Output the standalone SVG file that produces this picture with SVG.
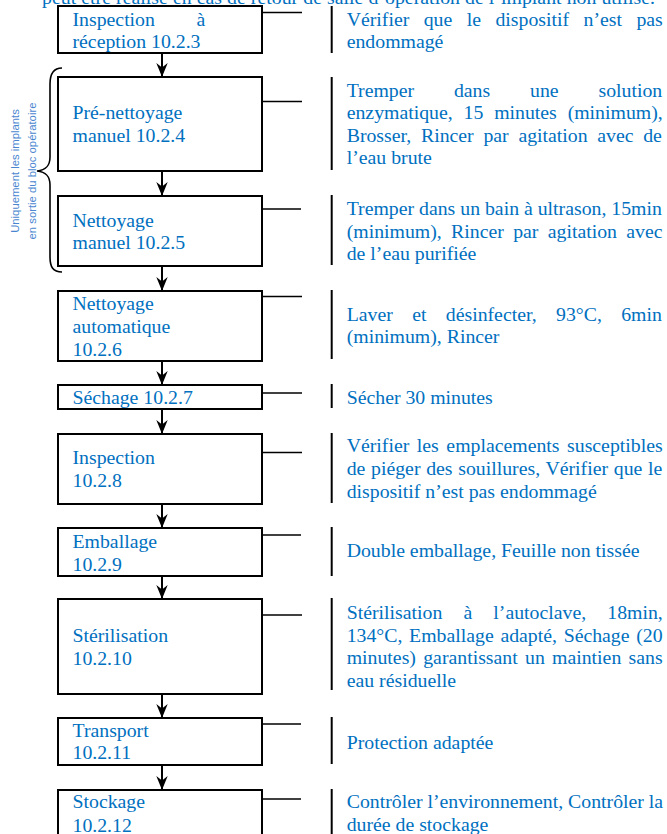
<svg xmlns="http://www.w3.org/2000/svg" width="667" height="834" viewBox="0 0 667 834">
<defs>
<style>
.t{font-family:"Liberation Serif","Times New Roman",serif;font-size:19.8px;fill:#0070C0}
.s{font-family:"Liberation Sans",Arial,sans-serif;font-size:11.3px;fill:#4a86d0}
.box{fill:#fff;stroke:#000;stroke-width:2}
.bar{stroke:#000;stroke-width:2}
.conn{stroke:#000;stroke-width:1.6}
.arr{stroke:#000;stroke-width:2;fill:none}
</style>
<marker id="ah" viewBox="0 0 14 12" refX="13" refY="6" markerWidth="14" markerHeight="12" markerUnits="userSpaceOnUse" orient="auto">
<path d="M0,0.3 L14,6 L0,11.7 L4.5,6 z" fill="#000"/>
</marker>
</defs>
<rect width="667" height="834" fill="#fff"/>
<text class="t" x="42" y="4" textLength="613" lengthAdjust="spacing">peut être réalisé en cas de retour de salle d’opération de l’implant non utilisé.</text>

<g id="brace">
<path d="M62,68 C53,68 50,74 50,84 L50,157 C50,166 46,170 37,171 C46,172 50,176 50,185 L50,257 C50,267 53,272 62,272" fill="none" stroke="#000" stroke-width="1.6"/>
<text class="s" transform="translate(19,171) rotate(-90)" text-anchor="middle"><tspan x="0" y="0">Uniquement les implants</tspan><tspan x="0" y="17">en sortie du bloc opératoire</tspan></text>
</g>

<g id="connectors">
<line class="arr" x1="162" y1="53" x2="162" y2="76" marker-end="url(#ah)"/>
<line class="arr" x1="162" y1="171" x2="162" y2="195" marker-end="url(#ah)"/>
<line class="arr" x1="162" y1="266" x2="162" y2="290" marker-end="url(#ah)"/>
<line class="arr" x1="162" y1="361" x2="162" y2="384" marker-end="url(#ah)"/>
<line class="arr" x1="162" y1="409" x2="162" y2="433" marker-end="url(#ah)"/>
<line class="arr" x1="162" y1="504" x2="162" y2="527" marker-end="url(#ah)"/>
<line class="arr" x1="162" y1="576" x2="162" y2="598" marker-end="url(#ah)"/>
<line class="arr" x1="162" y1="694" x2="162" y2="717" marker-end="url(#ah)"/>
<line class="arr" x1="162" y1="765" x2="162" y2="789" marker-end="url(#ah)"/>
<line class="conn" x1="262" y1="12.5" x2="302" y2="12.5"/>
<line class="conn" x1="262" y1="101.5" x2="302" y2="101.5"/>
<line class="conn" x1="260" y1="209" x2="301" y2="209"/>
<line class="conn" x1="262" y1="296.5" x2="302" y2="296.5"/>
<line class="conn" x1="262" y1="393" x2="302" y2="393"/>
<line class="conn" x1="262" y1="452.5" x2="302" y2="452.5"/>
<line class="conn" x1="262" y1="535" x2="301" y2="535"/>
<line class="conn" x1="262" y1="615" x2="302" y2="615"/>
<line class="conn" x1="260" y1="724" x2="301" y2="724"/>
<line class="conn" x1="260" y1="799" x2="301" y2="799"/>
</g>

<g id="n1"><rect class="box" x="58" y="6" width="204" height="47"/>
<text class="t" x="72.5" y="26">Inspection</text><text class="t" x="196.5" y="26">à</text>
<text class="t" x="72.5" y="48.3">réception 10.2.3</text></g>
<g id="d1"><line class="bar" x1="331.7" y1="6" x2="331.7" y2="53"/>
<text class="t" x="346.7" y="26" word-spacing="9.5">Vérifier que le dispositif n’est pas</text>
<text class="t" x="346.7" y="47.7">endommagé</text></g>

<g id="n2"><rect class="box" x="58" y="77" width="204" height="94"/>
<text class="t" x="72.5" y="119.3">Pré-nettoyage</text>
<text class="t" x="72.5" y="142">manuel 10.2.4</text></g>
<g id="d2"><line class="bar" x1="331.7" y1="77" x2="331.7" y2="170"/>
<text class="t" x="346.7" y="96.7" word-spacing="34.9">Tremper dans une solution</text>
<text class="t" x="346.7" y="119.3" word-spacing="5.9">enzymatique, 15 minutes (minimum),</text>
<text class="t" x="346.7" y="141.7" word-spacing="4.76">Brosser, Rincer par agitation avec de</text>
<text class="t" x="346.7" y="164">l’eau brute</text></g>

<g id="n3"><rect class="box" x="58" y="196" width="204" height="70"/>
<text class="t" x="72.5" y="226.7">Nettoyage</text>
<text class="t" x="72.5" y="249">manuel 10.2.5</text></g>
<g id="d3"><line class="bar" x1="331.7" y1="195" x2="331.7" y2="265"/>
<text class="t" x="346.7" y="215">Tremper dans un bain à ultrason, 15min</text>
<text class="t" x="346.7" y="237.5" word-spacing="4.4">(minimum), Rincer par agitation avec</text>
<text class="t" x="346.7" y="260">de l’eau purifiée</text></g>

<g id="n4"><rect class="box" x="58" y="291" width="204" height="70"/>
<text class="t" x="72.5" y="309.5">Nettoyage</text>
<text class="t" x="72.5" y="333">automatique</text>
<text class="t" x="72.5" y="356.3">10.2.6</text></g>
<g id="d4"><line class="bar" x1="331.7" y1="290" x2="331.7" y2="359"/>
<text class="t" x="346.7" y="320.7" word-spacing="14.4">Laver et désinfecter, 93°C, 6min</text>
<text class="t" x="346.7" y="343.3">(minimum), Rincer</text></g>

<g id="n5"><rect class="box" x="58" y="385" width="204" height="24"/>
<text class="t" x="72.5" y="404">Séchage 10.2.7</text></g>
<g id="d5"><line class="bar" x1="331.7" y1="384" x2="331.7" y2="408"/>
<text class="t" x="346.7" y="404">Sécher 30 minutes</text></g>

<g id="n6"><rect class="box" x="58" y="434" width="204" height="70"/>
<text class="t" x="72.5" y="464.3">Inspection</text>
<text class="t" x="72.5" y="487">10.2.8</text></g>
<g id="d6"><line class="bar" x1="331.7" y1="433" x2="331.7" y2="503"/>
<text class="t" x="346.7" y="452.3" word-spacing="2.6">Vérifier les emplacements susceptibles</text>
<text class="t" x="346.7" y="475" word-spacing="0.75">de piéger des souillures, Vérifier que le</text>
<text class="t" x="346.7" y="497.7">dispositif n’est pas endommagé</text></g>

<g id="n7"><rect class="box" x="58" y="528" width="204" height="48"/>
<text class="t" x="72.5" y="548.3">Emballage</text>
<text class="t" x="72.5" y="570.7">10.2.9</text></g>
<g id="d7"><line class="bar" x1="331.7" y1="527" x2="331.7" y2="576"/>
<text class="t" x="346.7" y="557.3">Double emballage, Feuille non tissée</text></g>

<g id="n8"><rect class="box" x="58" y="599" width="204" height="95"/>
<text class="t" x="72.5" y="641.7">Stérilisation</text>
<text class="t" x="72.5" y="665">10.2.10</text></g>
<g id="d8"><line class="bar" x1="331.7" y1="598" x2="331.7" y2="690"/>
<text class="t" x="346.7" y="619" word-spacing="16.2">Stérilisation à l’autoclave, 18min,</text>
<text class="t" x="346.7" y="641.7" word-spacing="1.75">134°C, Emballage adapté, Séchage (20</text>
<text class="t" x="346.7" y="664.3" word-spacing="2.35">minutes) garantissant un maintien sans</text>
<text class="t" x="346.7" y="686.7">eau résiduelle</text></g>

<g id="n9"><rect class="box" x="58" y="718" width="204" height="47"/>
<text class="t" x="72.5" y="736.7">Transport</text>
<text class="t" x="72.5" y="759.3">10.2.11</text></g>
<g id="d9"><line class="bar" x1="331.7" y1="717" x2="331.7" y2="764"/>
<text class="t" x="346.7" y="749.3">Protection adaptée</text></g>

<g id="n10"><rect class="box" x="58" y="790" width="204" height="60"/>
<text class="t" x="72.5" y="808">Stockage</text>
<text class="t" x="72.5" y="831.7">10.2.12</text></g>
<g id="d10"><line class="bar" x1="331.7" y1="789" x2="331.7" y2="840"/>
<text class="t" x="346.7" y="808.3">Contrôler l’environnement, Contrôler la</text>
<text class="t" x="346.7" y="830.7">durée de stockage</text></g>
</svg>
